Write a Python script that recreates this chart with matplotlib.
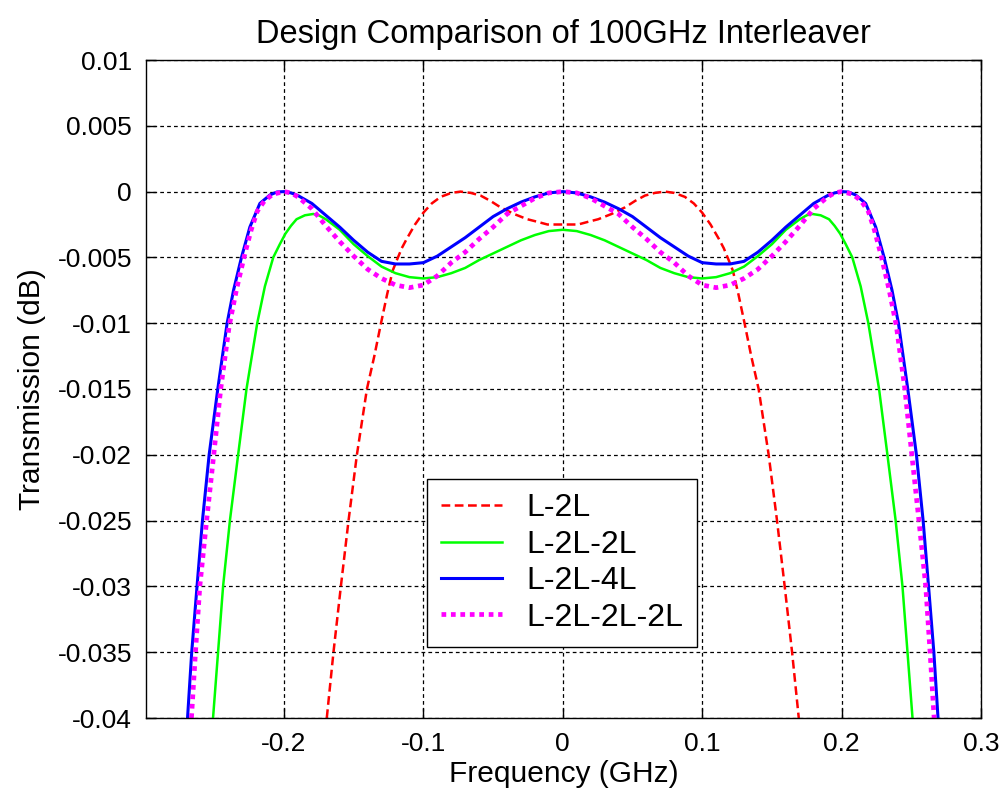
import matplotlib.pyplot as plt

# frequency offset (GHz) and transmission (dB)
x_l2l = [-0.1693, -0.1645, -0.1592, -0.1537, -0.1477, -0.1405, -0.1352, -0.1304, -0.126, -0.122,
         -0.119, -0.1155, -0.112, -0.106, -0.100, -0.094, -0.0876, -0.080, -0.0734, -0.066,
         -0.059, -0.052, -0.0446, -0.035, -0.0254, -0.018, -0.011, 0.0,
         0.011, 0.018, 0.0254, 0.035, 0.0446, 0.052, 0.059, 0.066, 0.0734, 0.080,
         0.0876, 0.094, 0.100, 0.106, 0.112, 0.1155, 0.119, 0.122, 0.126, 0.1304,
         0.1352, 0.1405, 0.1477, 0.1537, 0.1592, 0.1645, 0.1693]
y_l2l = [-0.040, -0.035, -0.030, -0.025, -0.020, -0.015, -0.0125, -0.010, -0.0078, -0.0060,
         -0.0052, -0.0043, -0.0036, -0.0025, -0.0016, -0.0009, -0.0004, -0.0001, 0.0, -0.0001,
         -0.0003, -0.0007, -0.0012, -0.0017, -0.0021, -0.0023, -0.0025, -0.0025,
         -0.0025, -0.0023, -0.0021, -0.0017, -0.0012, -0.0007, -0.0003, -0.0001, 0.0, -0.0001,
         -0.0004, -0.0009, -0.0016, -0.0025, -0.0036, -0.0043, -0.0052, -0.0060, -0.0078, -0.010,
         -0.0125, -0.015, -0.020, -0.025, -0.030, -0.035, -0.040]

x_l2l2l = [-0.2509, -0.2473, -0.2437, -0.2388, -0.2329, -0.2269, -0.2192, -0.2137, -0.2077, -0.203,
           -0.199, -0.195, -0.191, -0.185, -0.179, -0.175, -0.170, -0.160, -0.150, -0.140,
           -0.130, -0.120, -0.110, -0.100, -0.090, -0.080, -0.070, -0.060, -0.050, -0.040,
           -0.030, -0.020, -0.010, 0.0,
           0.010, 0.020, 0.030, 0.040, 0.050, 0.060, 0.070, 0.080, 0.090, 0.100,
           0.110, 0.120, 0.130, 0.140, 0.150, 0.160, 0.170, 0.175, 0.179, 0.185,
           0.191, 0.195, 0.199, 0.203, 0.2077, 0.2137, 0.2192, 0.2269, 0.2329, 0.2388,
           0.2437, 0.2473, 0.2509]
y_l2l2l = [-0.040, -0.035, -0.030, -0.025, -0.020, -0.015, -0.010, -0.0072, -0.0050, -0.0040,
           -0.0032, -0.0026, -0.0021, -0.0018, -0.0017, -0.0018, -0.0021, -0.0029, -0.0040, -0.0049,
           -0.0057, -0.0062, -0.0065, -0.0066, -0.0065, -0.0062, -0.0058, -0.0052, -0.0047, -0.0042,
           -0.0037, -0.0033, -0.0030, -0.0029,
           -0.0030, -0.0033, -0.0037, -0.0042, -0.0047, -0.0052, -0.0058, -0.0062, -0.0065, -0.0066,
           -0.0065, -0.0062, -0.0057, -0.0049, -0.0040, -0.0029, -0.0021, -0.0018, -0.0017, -0.0018,
           -0.0021, -0.0026, -0.0032, -0.0040, -0.0050, -0.0072, -0.010, -0.015, -0.020, -0.025,
           -0.030, -0.035, -0.040]

x_l2l4l = [-0.2692, -0.2662, -0.2624, -0.2585, -0.2537, -0.2475, -0.2408, -0.2362, -0.2305, -0.2245,
           -0.2173, -0.210, -0.205, -0.200, -0.195, -0.190, -0.180, -0.170, -0.160, -0.150,
           -0.140, -0.130, -0.120, -0.110, -0.100, -0.090, -0.080, -0.070, -0.060, -0.050,
           -0.040, -0.030, -0.020, -0.010, 0.0,
           0.010, 0.020, 0.030, 0.040, 0.050, 0.060, 0.070, 0.080, 0.090, 0.100,
           0.110, 0.120, 0.130, 0.140, 0.150, 0.160, 0.170, 0.180, 0.190, 0.195,
           0.200, 0.205, 0.210, 0.2173, 0.2245, 0.2305, 0.2362, 0.2408, 0.2475, 0.2537,
           0.2585, 0.2624, 0.2662, 0.2692]
y_l2l4l = [-0.040, -0.035, -0.030, -0.025, -0.020, -0.015, -0.010, -0.0075, -0.0050, -0.0027,
           -0.0009, -0.00025, -0.00003, 0.0, -0.0001, -0.0003, -0.0009, -0.0018, -0.0027, -0.0037,
           -0.0046, -0.0053, -0.0055, -0.0055, -0.0054, -0.0049, -0.0042, -0.0035, -0.0027, -0.0019,
           -0.0013, -0.0008, -0.0004, -0.0001, 0.0,
           -0.0001, -0.0004, -0.0008, -0.0013, -0.0019, -0.0027, -0.0035, -0.0042, -0.0049, -0.0054,
           -0.0055, -0.0055, -0.0053, -0.0046, -0.0037, -0.0027, -0.0018, -0.0009, -0.0003, -0.0001,
           0.0, -0.00003, -0.00025, -0.0009, -0.0027, -0.0050, -0.0075, -0.010, -0.015, -0.020,
           -0.025, -0.030, -0.035, -0.040]

x_l2l2l2l = [-0.2664, -0.2635, -0.2604, -0.2555, -0.2504, -0.2454, -0.2393, -0.234, -0.228, -0.2235,
             -0.2192, -0.214, -0.208, -0.200, -0.195, -0.190, -0.180, -0.170, -0.160, -0.150,
             -0.140, -0.130, -0.120, -0.110, -0.100, -0.090, -0.080, -0.070, -0.060, -0.050,
             -0.040, -0.030, -0.020, -0.010, 0.0,
             0.010, 0.020, 0.030, 0.040, 0.050, 0.060, 0.070, 0.080, 0.090, 0.100,
             0.110, 0.120, 0.130, 0.140, 0.150, 0.160, 0.170, 0.180, 0.190, 0.195,
             0.200, 0.208, 0.214, 0.2192, 0.2235, 0.228, 0.234, 0.2393, 0.2454, 0.2504,
             0.2555, 0.2604, 0.2635, 0.2664]
y_l2l2l2l = [-0.040, -0.035, -0.030, -0.025, -0.020, -0.015, -0.0102, -0.0074, -0.0047, -0.0029,
             -0.0015, -0.0007, -0.0002, 0.0, -0.0001, -0.0004, -0.0013, -0.0026, -0.0038, -0.0049,
             -0.0059, -0.0066, -0.0071, -0.0073, -0.0071, -0.0064, -0.0054, -0.0046, -0.0036, -0.0027,
             -0.0017, -0.0011, -0.0005, -0.0001, 0.0,
             -0.0001, -0.0005, -0.0011, -0.0017, -0.0027, -0.0036, -0.0046, -0.0054, -0.0064, -0.0071,
             -0.0073, -0.0071, -0.0066, -0.0059, -0.0049, -0.0038, -0.0026, -0.0013, -0.0004, -0.0001,
             0.0, -0.0002, -0.0007, -0.0015, -0.0029, -0.0047, -0.0074, -0.0102, -0.015, -0.020,
             -0.025, -0.030, -0.035, -0.040]

xticks = [-0.2, -0.1, 0, 0.1, 0.2, 0.3]
xticklabels = ['-0.2', '-0.1', '0', '0.1', '0.2', '0.3']
yticks = [0.01, 0.005, 0, -0.005, -0.01, -0.015, -0.02, -0.025, -0.03, -0.035, -0.04]
yticklabels = ['0.01', '0.005', '0', '-0.005', '-0.01', '-0.015', '-0.02', '-0.025', '-0.03', '-0.035', '-0.04']

plt.rcParams['font.family'] = ['Liberation Sans', 'DejaVu Sans']

fig = plt.figure(figsize=(10.02, 8), dpi=100)
ax = fig.add_axes([0.1457, 0.1025, 0.8333, 0.8225])

ax.plot(x_l2l, y_l2l, color='#ff0000', lw=1.8, linestyle=(0, (3.5, 1.8)), label='L-2L')
ax.plot(x_l2l2l, y_l2l2l, color='#00ff00', lw=1.8, label='L-2L-2L')
ax.plot(x_l2l4l, y_l2l4l, color='#0000ff', lw=2.2, label='L-2L-4L')
ax.plot(x_l2l2l2l, y_l2l2l2l, color='#ff00ff', lw=3.4, linestyle=(0, (1, 1.0)), label='L-2L-2L-2L')

ax.set_xlim(-0.299, 0.3)
ax.set_ylim(-0.04, 0.01)
ax.set_xticks(xticks)
ax.set_xticklabels(xticklabels)
ax.set_yticks(yticks)
ax.set_yticklabels(yticklabels)
ax.tick_params(direction='in', length=7, width=1, top=True, right=True, labelsize=19, pad=10)
ax.grid(True, color='black', linestyle=(0, (3, 2.5)), lw=0.9)
for s in ax.spines.values():
    s.set_linewidth(1.0)

ax.set_title('Design Comparison of 100GHz Interleaver', fontsize=23.5, pad=12)
ax.set_xlabel('Frequency (GHz)', fontsize=21.5, labelpad=3)
ax.set_ylabel('Transmission (dB)', fontsize=21.5, labelpad=8)

leg = ax.legend(loc='upper left', bbox_to_anchor=(0.3365, 0.3632), borderaxespad=0,
                fontsize=23, fancybox=False, framealpha=1, edgecolor='black',
                handlelength=1.9, handletextpad=0.75, labelspacing=0.2, borderpad=0.45)
leg.get_frame().set_linewidth(1.0)

fig.savefig('out.png', dpi=100)
